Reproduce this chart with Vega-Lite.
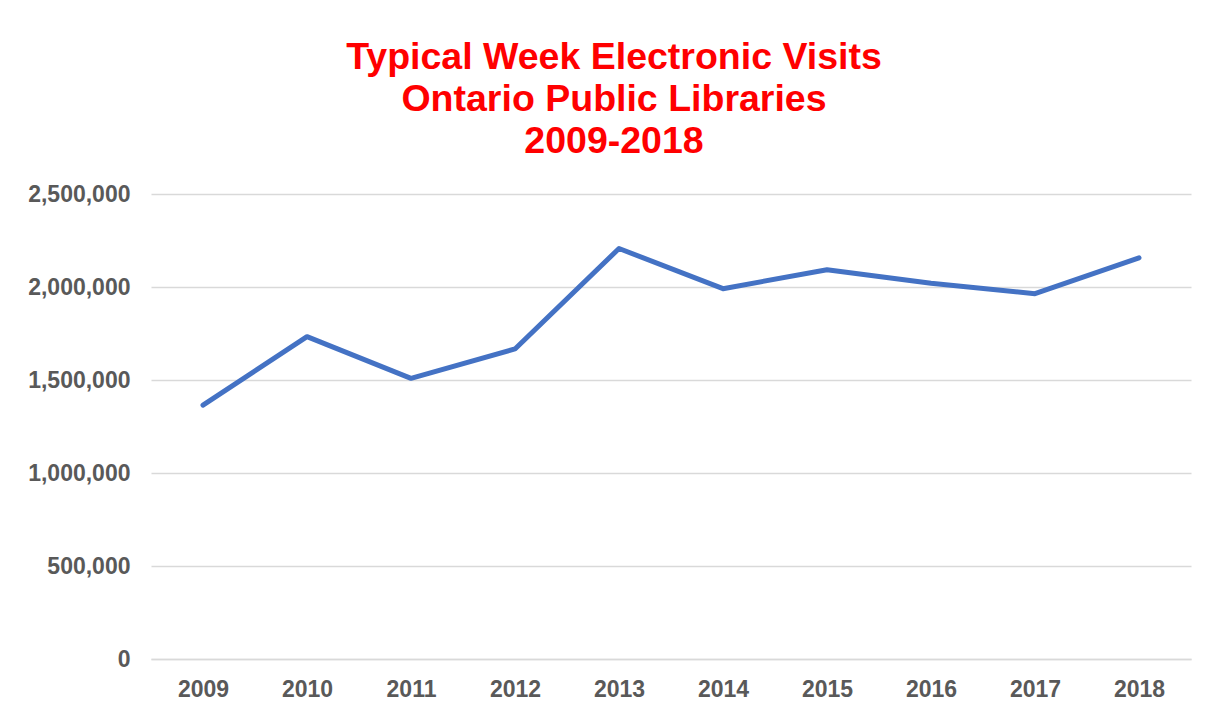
{
  "$schema": "https://vega.github.io/schema/vega-lite/v6.json",
  "width": 1040,
  "height": 465,
  "autosize": {"type": "none"},
  "padding": {"left": 151, "top": 194, "right": 21, "bottom": 50},
  "background": "white",
  "title": {
    "text": ["Typical Week Electronic Visits", "Ontario Public Libraries", "2009-2018"],
    "color": "#ff0000",
    "font": "Liberation Sans",
    "fontSize": 37.5,
    "fontWeight": "bold",
    "lineHeight": 42,
    "anchor": "middle",
    "dx": -57,
    "offset": 23
  },
  "data": {
    "values": [
      {"year": "2009", "visits": 1365000},
      {"year": "2010", "visits": 1733000},
      {"year": "2011", "visits": 1509000},
      {"year": "2012", "visits": 1667000},
      {"year": "2013", "visits": 2207000},
      {"year": "2014", "visits": 1991000},
      {"year": "2015", "visits": 2093000},
      {"year": "2016", "visits": 2020000},
      {"year": "2017", "visits": 1964000},
      {"year": "2018", "visits": 2157000}
    ]
  },
  "mark": {"type": "line", "color": "#4472c4", "strokeWidth": 5, "strokeCap": "round", "strokeJoin": "round"},
  "encoding": {
    "x": {
      "field": "year",
      "type": "ordinal",
      "title": null,
      "axis": {
        "grid": false,
        "ticks": false,
        "tickSize": 0,
        "domain": true,
        "domainColor": "#d9d9d9",
        "domainWidth": 1.5,
        "labelAngle": 0,
        "labelPadding": 19,
        "labelFont": "Liberation Sans",
        "labelFontSize": 23,
        "labelFontWeight": "bold",
        "labelColor": "#595959"
      }
    },
    "y": {
      "field": "visits",
      "type": "quantitative",
      "title": null,
      "scale": {"domain": [0, 2500000]},
      "axis": {
        "values": [0, 500000, 1000000, 1500000, 2000000, 2500000],
        "format": ",.0f",
        "grid": true,
        "gridColor": "#d9d9d9",
        "gridWidth": 1.5,
        "domain": false,
        "ticks": false,
        "tickSize": 0,
        "labelPadding": 21,
        "labelFont": "Liberation Sans",
        "labelFontSize": 23,
        "labelFontWeight": "bold",
        "labelColor": "#595959"
      }
    }
  },
  "config": {"view": {"stroke": null}}
}
